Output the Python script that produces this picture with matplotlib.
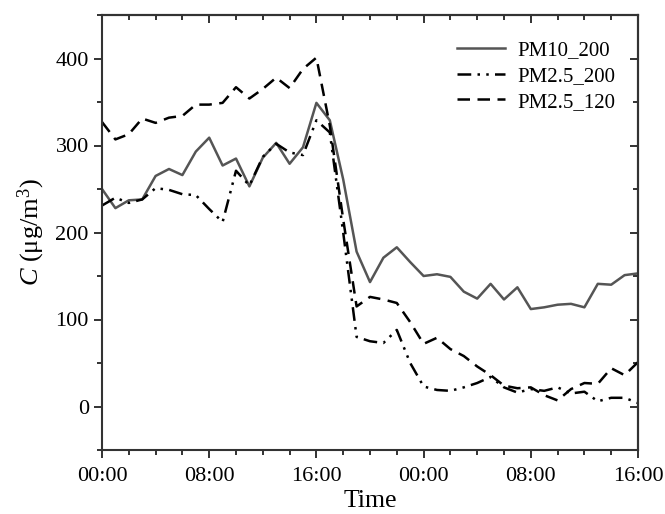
import matplotlib
matplotlib.use("Agg")
import matplotlib.pyplot as plt
from matplotlib.ticker import MultipleLocator, NullFormatter

plt.rcParams['font.family'] = ['Liberation Serif', 'DejaVu Serif']
plt.rcParams['mathtext.fontset'] = 'custom'
plt.rcParams['mathtext.rm'] = 'Liberation Serif'
plt.rcParams['mathtext.it'] = 'Liberation Serif:italic'

hours = list(range(41))
pm10_200 = [250, 228, 237, 238, 265, 273, 266, 293, 309, 277, 285, 253, 286, 303, 279, 298,
            349, 329, 261, 178, 143, 171, 183, 166, 150, 152, 149, 132, 124, 141, 123, 137,
            112, 114, 117, 118, 114, 141, 140, 151, 153]
pm25_200 = [231, 240, 234, 238, 251, 249, 244, 243, 227, 212, 271, 254, 287, 302, 292, 289,
            329, 315, 200, 80, 75, 73, 88, 50, 23, 19, 18, 22, 27, 34, 22, 16,
            20, 18, 22, 15, 17, 6, 10, 10, 4]
pm25_120 = [327, 307, 313, 331, 326, 332, 334, 347, 347, 349, 367, 354, 365, 378, 366, 388,
            401, 323, 215, 115, 126, 123, 119, 97, 72, 79, 66, 58, 46, 36, 24, 21,
            22, 13, 7, 20, 27, 26, 44, 36, 51]
xtick_pos = [0, 8, 16, 24, 32, 40]
xtick_labels = ['00:00', '08:00', '16:00', '00:00', '08:00', '16:00']
ytick_pos = [0, 100, 200, 300, 400]

fig = plt.figure(figsize=(6.65, 5.14), dpi=100)
ax = fig.add_axes([102/665, 1-450/514, 536/665, 435/514])

ax.plot(hours, pm10_200, color='#555555', lw=1.8, ls='-', label='PM10_200')
ax.plot(hours, pm25_200, color='black', lw=1.8, ls=(0, (5.5, 2.5, 1, 2.5, 1, 2.5)), label='PM2.5_200')
ax.plot(hours, pm25_120, color='black', lw=1.8, ls=(0, (5, 3)), label='PM2.5_120')

ax.set_xlim(0, 40)
ax.set_ylim(-50, 450)
ax.set_xticks(xtick_pos)
ax.set_xticklabels(xtick_labels)
ax.xaxis.set_minor_locator(MultipleLocator(2))
ax.set_yticks(ytick_pos)
ax.yaxis.set_minor_locator(MultipleLocator(50))
ax.tick_params(axis='both', which='major', direction='out', length=6, width=1.3, labelsize=16, colors='#222222')
ax.tick_params(axis='both', which='minor', direction='out', length=3.5, width=1.3, colors='#222222')
ax.tick_params(axis='both', labelcolor='black')
ax.tick_params(axis='x', pad=6)

for s in ax.spines.values():
    s.set_linewidth(1.5)
    s.set_color('#333333')

top = ax.secondary_xaxis('top')
top.set_xticks(xtick_pos)
top.xaxis.set_minor_locator(MultipleLocator(2))
top.tick_params(which='major', direction='in', length=6, width=1.3, colors='#222222', labeltop=False)
top.tick_params(which='minor', direction='in', length=3.5, width=1.3, colors='#222222')
top.xaxis.set_major_formatter(NullFormatter())
top.spines['top'].set_linewidth(1.5)

right = ax.secondary_yaxis('right')
right.set_yticks(ytick_pos)
right.yaxis.set_minor_locator(MultipleLocator(50))
right.tick_params(which='major', direction='in', length=6, width=1.3, colors='#222222', labelright=False)
right.tick_params(which='minor', direction='in', length=3.5, width=1.3, colors='#222222')
right.yaxis.set_major_formatter(NullFormatter())
right.spines['right'].set_linewidth(1.5)

ax.set_xlabel('Time', fontsize=18.5, labelpad=3)
ax.set_ylabel(r'$C$ (μg/m$^3$)', fontsize=19, labelpad=6)

leg = ax.legend(loc='upper right', frameon=False, fontsize=15, handlelength=2.3,
                handletextpad=0.6, labelspacing=0.3, borderaxespad=0.3,
                bbox_to_anchor=(0.985, 0.975))

fig.savefig('out.png', dpi=100)
